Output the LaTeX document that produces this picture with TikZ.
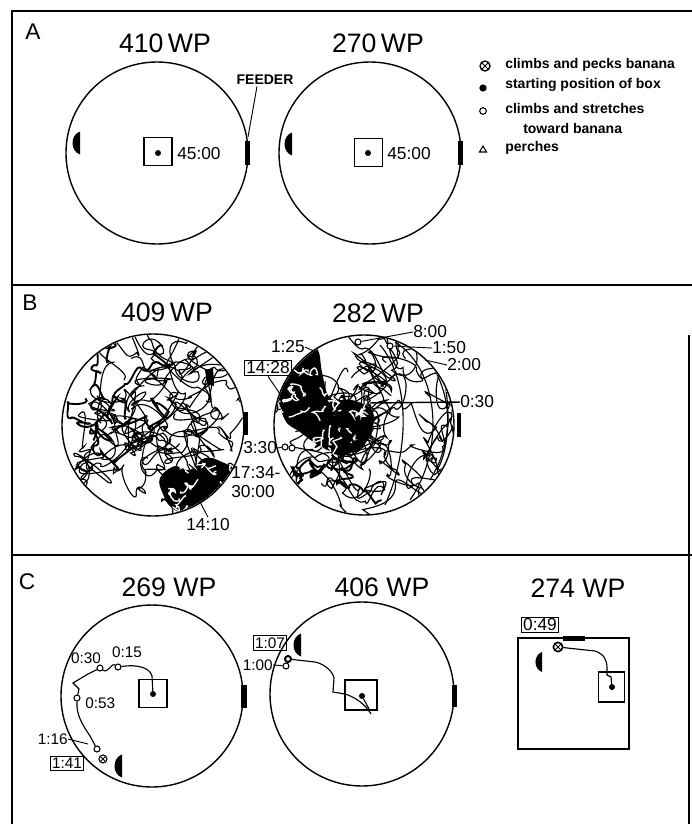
\documentclass[tikz,border=0pt]{standalone}
\usepackage{fontspec}
\setmainfont{Liberation Sans}
\begin{document}
\begin{tikzpicture}[x=0.75pt,y=-0.75pt,
  frame/.style={line width=0.9pt},
  arena/.style={line width=1.05pt},
  ttl/.style={font=\fontsize{20}{22}\selectfont, inner sep=0pt},
  plet/.style={font=\fontsize{17}{19}\selectfont, inner sep=0pt},
  lbl/.style={font=\fontsize{13}{15}\selectfont, inner sep=0pt},
  slbl/.style={font=\fontsize{11.5}{13}\selectfont, inner sep=0pt},
  legt/.style={font=\bfseries\fontsize{10.5}{12}\selectfont, anchor=west, inner sep=0pt},
  tagbox/.style={draw, line width=0.7pt, inner sep=1.3pt},
  sbox/.style={draw, line width=0.8pt, inner sep=0pt, minimum width=21pt, minimum height=21pt},
  trk/.style={line width=0.85pt},
  thk/.style={line width=1.4pt},
  lead/.style={line width=0.7pt},
  mk/.style={circle, draw, fill=white, line width=0.8pt, inner sep=0pt, minimum size=4.5pt},
  mkx/.style={circle, draw, fill=white, line width=0.8pt, inner sep=0pt, minimum size=6pt,
    path picture={\draw[line width=0.6pt] (path picture bounding box.north west) -- (path picture bounding box.south east) (path picture bounding box.north east) -- (path picture bounding box.south west);}},
  dotm/.style={circle, fill, inner sep=0pt, minimum size=4.5pt},
  bananaL/.pic={\fill (0,-11.5) .. controls (-10,-8) and (-10,8) .. (0,11.5) -- cycle;},
]
\useasboundingbox (0,0) rectangle (692,824);
\fill[white] (0,0) rectangle (692,824);

% ---------- frame ----------
\draw[frame] (12,824) -- (12,11) -- (692,11);
\draw[frame] (12,285) -- (692,285);
\draw[frame] (12,555) -- (692,555);
\draw[frame] (689,335) -- (689,824);

% ================= PANEL A =================
\node[plet] (labA) at (33,32) {A};
\node[ttl] (t410) at (165,43) {410\,WP};
\node[ttl] (t270) at (378,43) {270\,WP};

\draw[arena] (157,153) circle[radius=91];
\pic at (80,143) {bananaL};
\fill (245,141) rectangle (250,165);
\node[sbox] (bxA1) at (158,151.5) {};
\node[dotm] (dA1) at (158,153) {};
\node[lbl, anchor=west] (lA1) at (177,154) {45:00};
\node[font=\bfseries\fontsize{10.5}{12}\selectfont, inner sep=0pt] (feeder) at (265,80) {FEEDER};
\draw[lead] ([xshift=-6pt,yshift=-1pt]feeder.south) -- (248,137);

\draw[arena] (370,153) circle[radius=91];
\pic at (292,144) {bananaL};
\fill (458,141) rectangle (463,165);
\node[sbox] (bxA2) at (368.5,152.5) {};
\node[dotm] (dA2) at (368,153) {};
\node[lbl, anchor=west] (lA2) at (387,154) {45:00};

% legend
\node[mkx, minimum size=7.5pt, line width=1pt] (lg1) at (485,66) {};
\node[legt] (lt1) at (505,65) {climbs and pecks banana};
\node[dotm, minimum size=5.5pt] (lg2) at (483,88) {};
\node[legt] (lt2) at (505,85) {starting position of box};
\node[mk, minimum size=5pt] (lg3) at (483,111) {};
\node[legt] (lt3) at (505,108) {climbs and stretches};
\node[legt] (lt4) at (523,128) {toward banana};
\draw[line width=0.8pt] (479.5,152) -- (486.5,152) -- (483,146) -- cycle;
\node[legt] (lt5) at (505,148) {perches};

% ================= PANEL B =================
\node[plet] (labB) at (30,303) {B};
\node[ttl] (t409) at (167,312) {409\,WP};
\node[ttl] (t282) at (378,313) {282\,WP};

% left arena 409
\begin{scope}
  \clip (153,425) circle[radius=90];
  \pgfmathsetseed{11}
  \foreach \s in {1,...,24}{
    \draw[trk] ({153+68*rand},{425+68*rand})
      \foreach \j in {1,...,9}{ .. controls +({20*rand},{20*rand}) and +({20*rand},{20*rand}) .. ++({34*rand},{34*rand}) };
  }
  \foreach \s in {1,...,6}{
    \draw[thk] ({120+35*rand},{440+35*rand})
      \foreach \j in {1,...,8}{ .. controls +({10*rand},{10*rand}) and +({10*rand},{10*rand}) .. ++({20*rand},{20*rand}) };
  }
  \fill plot[smooth cycle, tension=0.7] coordinates {(160,478)(175,466)(190,470)(205,458)(222,462)(236,472)(228,490)(210,505)(190,514)(172,508)(163,494)};
  \begin{scope}
    \clip plot[smooth cycle, tension=0.7] coordinates {(160,478)(175,466)(190,470)(205,458)(222,462)(236,472)(228,490)(210,505)(190,514)(172,508)(163,494)};
    \foreach \s in {1,...,16}{
      \draw[white, line width=1pt] ({198+36*rand},{486+24*rand})
        \foreach \j in {1,...,3}{ .. controls +({5*rand},{5*rand}) and +({5*rand},{5*rand}) .. ++({10*rand},{8*rand}) };
    }
  \end{scope}
  \fill (205,370) -- (213,368) -- (214,386) -- (207,384) -- cycle;
\end{scope}
\draw[arena] (153,425) circle[radius=91];
\fill (243,412) rectangle (248,435);

\node[lbl, anchor=west] (l1734) at (231,473) {17:34-};
\node[lbl, anchor=west] (l3000) at (231,492) {30:00};
\draw[lead] (l1734.west) -- (215,470);
\node[lbl] (l1410) at (208,525) {14:10};
\draw[lead] ([yshift=1pt]l1410.north) -- (199,500);

% right arena 282
\begin{scope}
  \clip (364,425) circle[radius=89];
  \pgfmathsetseed{23}
  \foreach \s in {1,...,24}{
    \draw[trk] ({364+68*rand},{425+68*rand})
      \foreach \j in {1,...,9}{ .. controls +({20*rand},{20*rand}) and +({20*rand},{20*rand}) .. ++({34*rand},{34*rand}) };
  }
  \draw[trk] (395,342) .. controls (440,370) and (445,450) .. (410,500);
  \draw[trk] (420,348) .. controls (455,390) and (455,440) .. (430,480);
  \draw[trk] (440,365) .. controls (452,400) and (450,450) .. (437,470);
  \draw[trk] (380,345) .. controls (410,380) and (410,450) .. (385,505);
  \fill plot[smooth cycle, tension=0.6] coordinates {(288,352)(305,342)(318,350)(322,372)(330,398)(352,400)(372,410)(372,430)(360,448)(338,455)(318,445)(300,432)(285,420)(278,390)};
  \begin{scope}
    \clip plot[smooth cycle, tension=0.6] coordinates {(288,352)(305,342)(318,350)(322,372)(330,398)(352,400)(372,410)(372,430)(360,448)(338,455)(318,445)(300,432)(285,420)(278,390)};
    \foreach \s in {1,...,26}{
      \draw[white, line width=1pt] ({325+48*rand},{400+55*rand})
        \foreach \j in {1,...,3}{ .. controls +({5*rand},{5*rand}) and +({5*rand},{5*rand}) .. ++({10*rand},{10*rand}) };
    }
  \end{scope}
  \foreach \s in {1,...,5}{
    \draw[thk] ({320+30*rand},{470+25*rand})
      \foreach \j in {1,...,8}{ .. controls +({8*rand},{8*rand}) and +({8*rand},{8*rand}) .. ++({16*rand},{14*rand}) };
  }
\end{scope}
\draw[arena] (364,425) circle[radius=90];
\fill (457,413) rectangle (461,437);

\node[mk] (m800) at (358,342) {};
\node[mk] (m150) at (390,346) {};
\node[lbl, anchor=west] (l800) at (413,332) {8:00};
\draw[lead] (l800.west) -- (m800);
\node[lbl, anchor=west] (l150) at (432,348) {1:50};
\draw[lead] (l150.west) -- (m150);
\node[lbl, anchor=west] (l200) at (447,365) {2:00};
\draw[lead] (l200.west) -- (425,360);
\node[lbl, anchor=west] (l030) at (460,402) {0:30};
\draw[line width=1.1pt] (l030.west) -- (370,403);
\node[lbl, anchor=east] (l125) at (305,347) {1:25};
\draw[lead] (l125.east) -- (318,353);
\node[lbl, tagbox] (l1428) at (268,368) {14:28};
\draw[lead] (l1428.south) -- (280,394);
\node[lbl, anchor=west] (l330) at (243,448) {3:30};
\node[mk] (m330a) at (285,447) {};
\node[mk] (m330b) at (292,448) {};
\draw[lead] (l330.east) -- (m330a);

% ================= PANEL C =================
\node[plet] (labC) at (27,582) {C};
\node[ttl] (t269) at (169,587) {269 WP};
\node[ttl] (t406) at (382,587) {406 WP};
\node[ttl] (t274) at (578,588) {274 WP};

% 269 WP
\draw[arena] (152,696) circle[radius=91];
\fill (241,685) rectangle (247,708);
\pic at (122,766) {bananaL};
\node[sbox] (bxC1) at (153,693.5) {};
\node[dotm] (d269) at (153,694) {};
\node[mk] (m1) at (118,667) {};
\node[mk] (m2) at (100,668) {};
\node[mk] (m3) at (77,698) {};
\node[mk] (m4) at (97,749) {};
\node[mkx] (m5) at (103,759) {};
\draw[trk] (d269) -- (152,676) .. controls (150,668) and (138,664) .. (m1);
\draw[trk] (m1) .. controls (112,662) and (108,674) .. (m2);
\draw[trk] (m2) -- (88,674) -- (73,683) -- (79,689) -- (m3);
\draw[trk] (m3) -- (77,707) .. controls (78,718) and (84,727) .. (90,736) -- (m4);
\node[slbl] (l015) at (127,652) {0:15};
\node[slbl] (l030c) at (86,658) {0:30};
\node[slbl, anchor=west] (l053) at (85,703) {0:53};
\node[slbl, anchor=east] (l116) at (68,739) {1:16};
\draw[lead] (l116.east) -- (88,744);
\node[slbl, tagbox] (l141) at (67,763) {1:41};

% 406 WP
\draw[arena] (362,694) circle[radius=92];
\fill (452,685) rectangle (457,707);
\pic at (301,645) {bananaL};
\node[sbox, minimum width=24pt, minimum height=22.5pt] (bxC2) at (361,695) {};
\node[dotm] (d406) at (362,696) {};
\node[mk, line width=1.5pt] (m6) at (288,659) {};
\node[mk] (m7) at (286,666) {};
\draw[trk] (m6) -- (315,662) .. controls (325,664) and (333,672) .. (334,678) -- (333,692) -- (345,694) .. controls (355,697) and (365,704) .. (371,714);
\draw[trk] (d406) -- (369,709);
\node[slbl, tagbox] (l107) at (270,643) {1:07};
\node[slbl, anchor=east] (l100) at (273,665) {1:00};
\draw[lead] (l100.east) -- (m7);

% 274 WP
\draw[arena] (518,638) rectangle (629,749);
\fill (563,636) rectangle (585,641);
\pic[scale=0.87] at (542,662) {bananaL};
\node[sbox, minimum width=20pt, minimum height=22.5pt] (bxC3) at (611.5,687) {};
\node[dotm] (d274) at (612,687) {};
\node[mkx, minimum size=7pt, line width=1.2pt] (m8) at (558,647) {};
\draw[trk] (m8) -- (595,651) .. controls (604,654) and (607,660) .. (607,668) -- (607,675) -- (611,677) -- (d274);
\node[lbl, tagbox] (l049) at (540,625) {0:49};
\end{tikzpicture}
\end{document}
